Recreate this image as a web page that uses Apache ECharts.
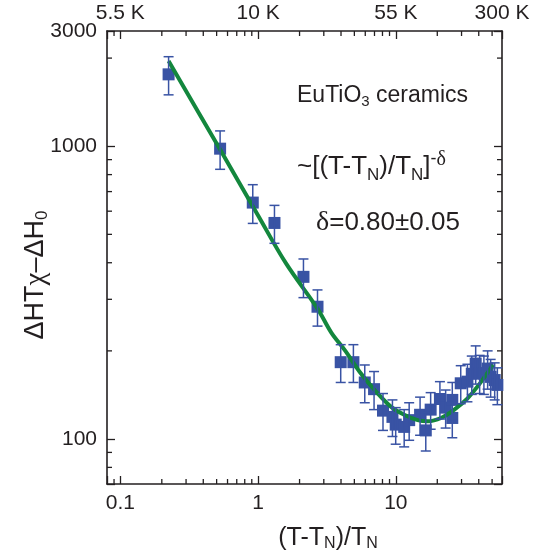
<!DOCTYPE html>
<html>
<head>
<meta charset="utf-8">
<script src="https://cdn.jsdelivr.net/npm/echarts@6/dist/echarts.min.js"></script>
<style>
  html, body { margin: 0; padding: 0; background: #ffffff; }
  #chart { width: 539px; height: 557px; }
</style>
</head>
<body>
<div id="chart"></div>
<script>
// Reduced temperature (T - TN) / TN of each measurement
const reducedT = [0.224, 0.530, 0.915, 1.315, 2.135, 2.70, 3.98, 4.92, 5.95, 6.95,
                  8.07, 9.45, 9.98, 11.5, 12.5, 15.0, 16.5, 17.9, 20.9, 23.0,
                  25.7, 25.7, 29.6, 33.1, 35.6, 38.0, 40.6, 43.6, 46.4, 48.8,
                  52.2, 54.6];
// Measured ΔHTχ − ΔH0
const deltaH = [1760, 981, 642, 547, 358, 283, 183, 183, 156, 148,
                125, 119, 112, 110, 116, 121, 107, 126, 137, 128,
                136, 118, 155, 157, 167, 181, 168, 167, 174, 163,
                159, 153];
// Error bar half-heights
const deltaHErr = [262, 147, 97, 81, 54, 40, 27, 27, 23, 22,
                   18, 17, 16, 16, 17, 18, 16, 18, 20, 19,
                   20, 17, 23, 23, 25, 27, 25, 25, 26, 24,
                   23, 22];
// Power-law fit ~[(T-TN)/TN]^-δ with background
const fitReducedT = [0.224, 0.53, 1.0, 1.6, 2.7, 3.4, 4.3, 5.6, 7.2, 9.2,
                     11.5, 14.4, 17.1, 21.3, 26.6, 33.3, 41.7, 50.7];
const fitDeltaH = [1955, 974, 580, 397, 279, 231, 200, 167, 145, 129,
                   121, 116, 115, 118, 126, 138, 157, 179];

// Axis ranges and tick labels
const xRange = [0.08, 59];
const yRange = [70.2, 2475];
const xTickValues = [0.1, 1, 10];
const xTickLabels = ['0.1', '1', '10'];
const topTickValues = [0.1, 1, 10, 59];
const topTickLabels = ['5.5 K', '10 K', '55 K', '300 K'];
const yTickValues = [100, 1000, 2475];
const yTickLabels = ['100', '1000', '3000'];
const xMinorTicks = [0.09, 0.2, 0.3, 0.4, 0.5, 0.6, 0.7, 0.8, 0.9,
                     2, 3, 4, 5, 6, 7, 8, 9, 20, 30, 40, 50];
const yMinorTicks = [80, 90, 200, 300, 400, 500, 600, 700, 800, 900, 2000];

const FONT = '"Liberation Sans", Arial, Helvetica, sans-serif';
const SERIF = '"Liberation Serif", "Times New Roman", serif';
const INK = '#231f20';
const BLUE = '#3953a4';
const GREEN = '#13873d';

function pickLabel(values, labels, v) {
  for (let i = 0; i < values.length; i++) {
    if (Math.abs(Math.log10(v) - Math.log10(values[i])) < 1e-3) return labels[i];
  }
  return '';
}

const axisLineStyle = { color: INK, width: 1.6 };
const tickStyle = { color: INK, width: 1.3 };

function logAxis(position, range, label) {
  return {
    type: 'log', logBase: 10, position: position,
    min: range[0], max: range[1],
    axisLine: { show: true, lineStyle: axisLineStyle },
    axisTick: { show: true, inside: true, length: 8, lineStyle: tickStyle },
    splitLine: { show: false },
    axisLabel: label
  };
}

function tickLabel(margin, values, labels) {
  return {
    show: true, margin: margin, color: INK, fontFamily: FONT, fontSize: 21,
    showMinLabel: true, showMaxLabel: true,
    formatter: v => pickLabel(values, labels, v)
  };
}

const chart = echarts.init(document.getElementById('chart'), null, { renderer: 'canvas' });

const subStyle = size => ({ fontSize: size, fontFamily: FONT, fill: INK, verticalAlign: 'bottom', padding: [12, 0, 0, 0] });

chart.setOption({
  animation: false,
  backgroundColor: '#ffffff',
  grid: { left: 107, right: 37, top: 31, bottom: 73 },
  xAxis: [
    logAxis('bottom', xRange, tickLabel(9, xTickValues, xTickLabels)),
    logAxis('top', xRange, tickLabel(7, topTickValues, topTickLabels))
  ],
  yAxis: [
    logAxis('left', yRange, tickLabel(10, yTickValues, yTickLabels)),
    logAxis('right', yRange, { show: false })
  ],
  series: [
    // minor ticks on bottom and top edges
    {
      type: 'custom', silent: true, z: 5,
      xAxisIndex: 0, yAxisIndex: 0,
      data: xMinorTicks.map(v => [v, yRange[0]]),
      renderItem: (params, api) => {
        const v = api.value(0);
        const b = api.coord([v, yRange[0]]);
        const t = api.coord([v, yRange[1]]);
        const st = { stroke: INK, lineWidth: 1.3 };
        return { type: 'group', children: [
          { type: 'line', shape: { x1: b[0], y1: b[1], x2: b[0], y2: b[1] - 5 }, style: st },
          { type: 'line', shape: { x1: t[0], y1: t[1], x2: t[0], y2: t[1] + 5 }, style: st }
        ] };
      }
    },
    // minor ticks on left and right edges
    {
      type: 'custom', silent: true, z: 5,
      xAxisIndex: 0, yAxisIndex: 0,
      data: yMinorTicks.map(v => [xRange[0], v]),
      renderItem: (params, api) => {
        const v = api.value(1);
        const l = api.coord([xRange[0], v]);
        const r = api.coord([xRange[1], v]);
        const st = { stroke: INK, lineWidth: 1.3 };
        return { type: 'group', children: [
          { type: 'line', shape: { x1: l[0], y1: l[1], x2: l[0] + 5, y2: l[1] }, style: st },
          { type: 'line', shape: { x1: r[0], y1: r[1], x2: r[0] - 5, y2: r[1] }, style: st }
        ] };
      }
    },
    // measured points
    {
      type: 'scatter', name: 'data', z: 2,
      xAxisIndex: 0, yAxisIndex: 0,
      symbol: 'rect', symbolSize: 12,
      itemStyle: { color: BLUE, opacity: 1 },
      data: reducedT.map((x, i) => [x, deltaH[i]])
    },
    // fit curve
    {
      type: 'line', name: 'fit', z: 3,
      xAxisIndex: 0, yAxisIndex: 0,
      showSymbol: false, smooth: 0.35,
      lineStyle: { color: GREEN, width: 4 },
      data: fitReducedT.map((x, i) => [x, fitDeltaH[i]])
    },
    // error bars
    {
      type: 'custom', name: 'err', z: 4, silent: true,
      xAxisIndex: 0, yAxisIndex: 0,
      data: reducedT.map((x, i) => [x, deltaH[i] - deltaHErr[i], deltaH[i] + deltaHErr[i]]),
      renderItem: (params, api) => {
        const x = api.value(0);
        const lo = api.coord([x, api.value(1)]);
        const hi = api.coord([x, api.value(2)]);
        const cap = 5;
        const st = { stroke: BLUE, lineWidth: 1.5 };
        return { type: 'group', children: [
          { type: 'line', shape: { x1: lo[0], y1: lo[1], x2: hi[0], y2: hi[1] }, style: st },
          { type: 'line', shape: { x1: lo[0] - cap, y1: lo[1], x2: lo[0] + cap, y2: lo[1] }, style: st },
          { type: 'line', shape: { x1: hi[0] - cap, y1: hi[1], x2: hi[0] + cap, y2: hi[1] }, style: st }
        ] };
      }
    }
  ],
  graphic: [
    {
      type: 'text', x: 328, y: 538,
      style: {
        text: '(T-T{sub|N})/T{sub|N}',
        font: '25px ' + FONT, fill: INK, align: 'center', verticalAlign: 'middle',
        rich: { sub: subStyle(16) }
      }
    },
    {
      type: 'text', x: 36, y: 275, rotation: Math.PI / 2,
      style: {
        text: 'ΔHT{chi|χ}–ΔH{sub|0}',
        font: '27px ' + FONT, fill: INK, align: 'center', verticalAlign: 'middle',
        rich: {
          chi: { fontSize: 29, fontFamily: SERIF, fill: INK },
          sub: subStyle(17)
        }
      }
    },
    {
      type: 'text', x: 297, y: 96,
      style: {
        text: 'EuTiO{sub|3} ceramics',
        font: '23px ' + FONT, fill: INK, align: 'left', verticalAlign: 'middle',
        rich: { sub: subStyle(15) }
      }
    },
    {
      type: 'text', x: 297, y: 167,
      style: {
        text: '~[(T-T{sub|N})/T{sub|N}]{sup|-}{supg|δ}',
        font: '26px ' + FONT, fill: INK, align: 'left', verticalAlign: 'middle',
        rich: {
          sub: subStyle(17),
          sup: { fontSize: 18, fontFamily: FONT, fill: INK, verticalAlign: 'top', padding: [0, 0, 14, 0] },
          supg: { fontSize: 20, fontFamily: SERIF, fill: INK, verticalAlign: 'top', padding: [0, 0, 14, 0] }
        }
      }
    },
    {
      type: 'text', x: 316, y: 223,
      style: {
        text: '{g|δ}=0.80±0.05',
        font: '26px ' + FONT, fill: INK, align: 'left', verticalAlign: 'middle',
        rich: { g: { fontSize: 28, fontFamily: SERIF, fill: INK } }
      }
    }
  ]
});
</script>
</body>
</html>
